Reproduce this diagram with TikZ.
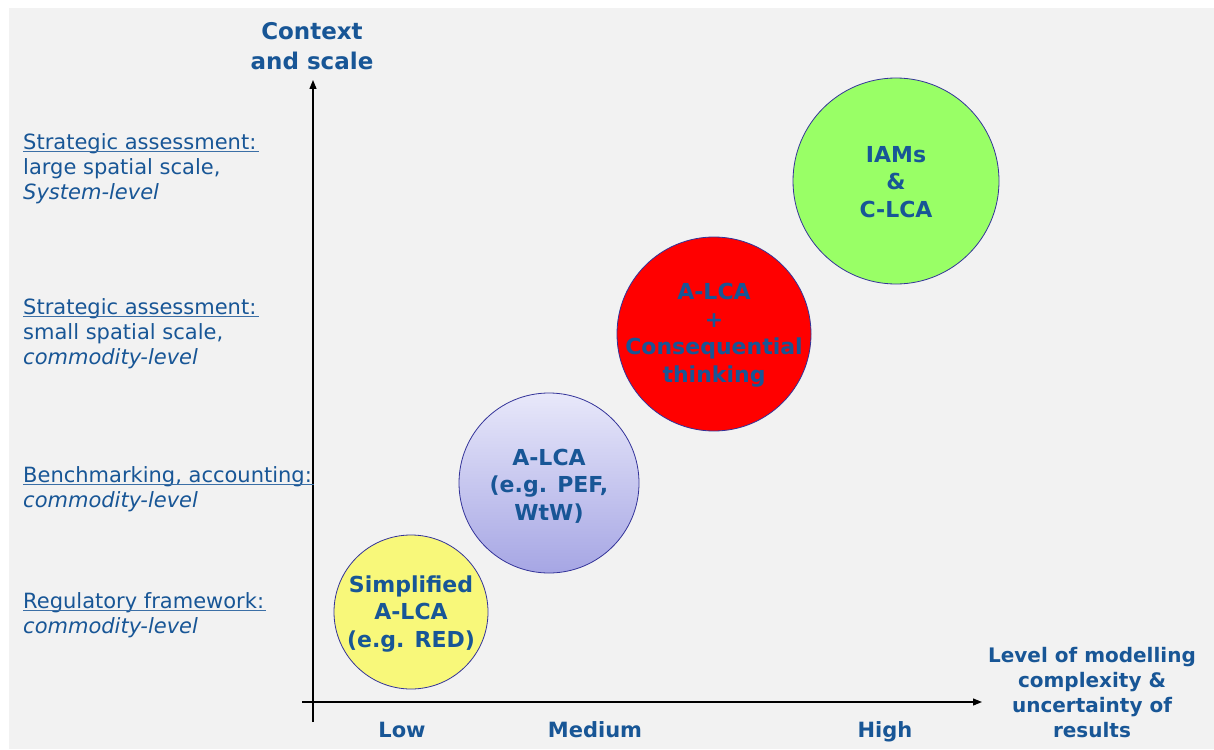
\documentclass[tikz,border=0pt]{standalone}
\usepackage{fontspec}
\setmainfont{DejaVu Sans}
\usetikzlibrary{arrows.meta}
\definecolor{txtblue}{RGB}{24,86,150}
\definecolor{bggray}{RGB}{242,242,242}
\definecolor{rim}{RGB}{51,51,153}
\definecolor{cyellow}{RGB}{248,248,122}
\definecolor{cgreen}{RGB}{153,255,102}
\definecolor{bluetop}{RGB}{232,232,250}
\definecolor{bluebot}{RGB}{166,166,228}
\tikzset{
  bubble/.style={circle, draw=rim, line width=0.8pt, inner sep=0pt},
  bubtxt/.style={text=txtblue, align=center, inner sep=0pt, font=\fontsize{22}{27.5}\selectfont\bfseries},
  side/.style={text=txtblue, anchor=base west, inner sep=0pt, font=\fontsize{21}{25}\selectfont},
  axlabel/.style={text=txtblue, align=center, inner sep=0pt, font=\fontsize{20}{25}\selectfont\bfseries},
  ticklabel/.style={text=txtblue, anchor=base, inner sep=0pt, font=\fontsize{21}{25}\selectfont\bfseries},
  ulline/.style={draw=txtblue!85, line width=1.1pt},
  axis/.style={draw=black, line width=1.2pt, -{Triangle[length=9pt,width=7pt]}}
}
\begin{document}
\begin{tikzpicture}[x=1pt,y=-1pt]
\useasboundingbox (0,0) rectangle (1214,749);
\fill[bggray] (9,8) rectangle (1214,749);

% axes
\coordinate (yb) at (313,722);
\coordinate (yt) at (313,80);
\coordinate (xl) at (302,702);
\coordinate (xr) at (982,702);
\draw[axis] (yb) -- (yt);
\draw[axis] (xl) -- (xr);

% titles
\node[text=txtblue, align=center, inner sep=0pt, font=\fontsize{23}{30}\selectfont\bfseries] (ytitle) at (312,46) {Context\\and scale};
\node[axlabel] (xtitle) at (1092,693) {Level of modelling\\complexity \&\\uncertainty of\\results};
\node[ticklabel] (low) at (402,737) {Low};
\node[ticklabel] (med) at (595,737) {Medium};
\node[ticklabel] (high) at (885,737) {High};

% side labels
\node[side] (s1a) at (23,149) {Strategic assessment:};
\node[side] (s1b) at (23,174) {large spatial scale,};
\node[side] (s1c) at (23,199) {\itshape System-level};
\node[side] (s2a) at (23,314) {Strategic assessment:};
\node[side] (s2b) at (23,339) {small spatial scale,};
\node[side] (s2c) at (23,364) {\itshape commodity-level};
\node[side] (s3a) at (23,482) {Benchmarking, accounting:};
\node[side] (s3b) at (23,507) {\itshape commodity-level};
\node[side] (s4a) at (23,608) {Regulatory framework:};
\node[side] (s4b) at (23,633) {\itshape commodity-level};
\foreach \n in {s1a,s2a,s3a,s4a}
  \draw[ulline] ([yshift=-2.2pt]\n.base west) -- ([yshift=-2.2pt,xshift=2pt]\n.base east);

% bubbles
\node[bubble, fill=cyellow, minimum size=154pt] (yel) at (411,612) {};
\node[bubble, top color=bluetop, bottom color=bluebot, minimum size=180pt] (blu) at (549,483) {};
\node[bubble, fill=red, minimum size=194pt] (redc) at (714,334) {};
\node[bubble, fill=cgreen, minimum size=206pt] (grn) at (896,181) {};

\node[bubtxt] (tyel) at (411,614) {Simplified\\A-LCA\\(e.g. RED)};
\node[bubtxt] (tblu) at (549,486) {A-LCA\\(e.g. PEF,\\WtW)};
\node[bubtxt] (tred) at (714,335) {A-LCA\\+\\Consequential\\thinking};
\node[bubtxt] (tgrn) at (896,182) {IAMs\\\&\\C-LCA};
\end{tikzpicture}
\end{document}
